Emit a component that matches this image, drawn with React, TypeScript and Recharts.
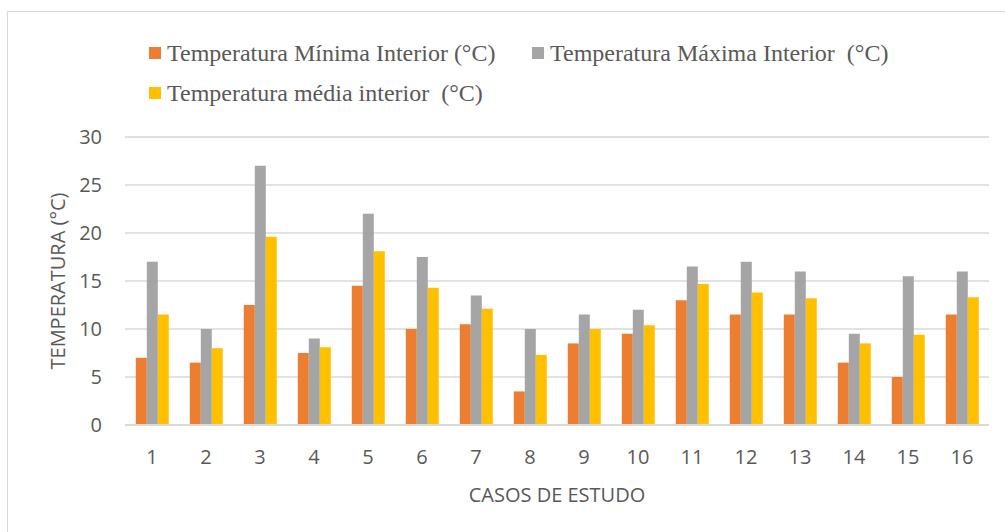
import React from "react";
import {
  BarChart,
  Bar,
  XAxis,
  YAxis,
  CartesianGrid,
  Legend,
} from "recharts";

const categories = ["1", "2", "3", "4", "5", "6", "7", "8", "9", "10", "11", "12", "13", "14", "15", "16"];
const minima = [7, 6.5, 12.5, 7.5, 14.5, 10, 10.5, 3.5, 8.5, 9.5, 13, 11.5, 11.5, 6.5, 5, 11.5];
const maxima = [17, 10, 27, 9, 22, 17.5, 13.5, 10, 11.5, 12, 16.5, 17, 16, 9.5, 15.5, 16];
const medias = [11.5, 8, 19.6, 8.1, 18.1, 14.3, 12.1, 7.3, 10, 10.4, 14.7, 13.8, 13.2, 8.5, 9.4, 13.3];
const seriesOrder = ["min", "max", "med"];
const majorTicks = [0, 5, 10, 15, 20, 25, 30];
const minorTicks = [0, 1, 2, 3, 4, 5, 6, 7, 8, 9, 10, 11, 12, 13, 14, 15, 16, 17, 18, 19, 20, 21, 22, 23, 24, 25, 26, 27, 28, 29, 30];

const data = categories.map((c, i) => ({
  caso: c,
  min: minima[i],
  max: maxima[i],
  med: medias[i],
}));

const TEXT = "#595959";
const SANS = "'Open Sans', sans-serif";

function LegendBox({ payload }: any) {
  const items = [...(payload || [])].sort(
    (a: any, b: any) => seriesOrder.indexOf(a.dataKey) - seriesOrder.indexOf(b.dataKey)
  );
  return (
    <div
      style={{
        display: "flex",
        flexWrap: "wrap",
        width: 780,
        paddingLeft: 149,
        paddingTop: 33,
        fontFamily: "'Liberation Serif', serif",
        fontSize: 24,
        color: TEXT,
      }}
    >
      {items.map((p: any) => (
        <div
          key={p.value}
          style={{ display: "flex", alignItems: "center", width: 383, height: 40 }}
        >
          <span style={{ width: 12, height: 12, background: p.color, marginRight: 6, flex: "none" }} />
          <span style={{ whiteSpace: "pre" }}>{p.value}</span>
        </div>
      ))}
    </div>
  );
}

export default function App() {
  return (
    <div style={{ position: "fixed", left: 0, top: 0, width: 1005, height: 532, overflow: "hidden", background: "#fff" }}>
      <div
        style={{
          position: "absolute",
          left: 7,
          top: 11,
          width: 1100,
          height: 600,
          borderTop: "1px solid #d9d9d9",
          borderLeft: "1px solid #d9d9d9",
        }}
      />
      <div style={{ position: "absolute", left: 0, top: 0 }}>
        <BarChart
          width={1005}
          height={532}
          data={data}
          margin={{ top: 137, right: 16, bottom: 0, left: 0 }}
          barCategoryGap="20%"
          barGap={0}
        >
          <CartesianGrid yAxisId="minor" vertical={false} stroke="#efefef" strokeWidth={1.3} />
          <CartesianGrid yAxisId="main" vertical={false} stroke="#d9d9d9" strokeWidth={1.5} />
          <XAxis
            dataKey="caso"
            height={107}
            tickSize={0}
            tickMargin={25}
            tickLine={false}
            axisLine={{ stroke: "#d9d9d9", strokeWidth: 2 }}
            tick={{ fill: TEXT, fontSize: 20, fontFamily: SANS }}
            interval={0}
            label={{
              content: ({ viewBox }: any) => (
                <text
                  x={viewBox.x + viewBox.width / 2}
                  y={viewBox.y + 69}
                  textAnchor="middle"
                  dominantBaseline="central"
                  fill={TEXT}
                  fontSize={20}
                  fontFamily={SANS}
                >
                  CASOS DE ESTUDO
                </text>
              ),
            }}
          />
          <YAxis
            yAxisId="main"
            width={125}
            domain={[0, 30]}
            ticks={majorTicks}
            tickSize={0}
            tickMargin={23}
            tickLine={false}
            axisLine={false}
            tick={{ fill: TEXT, fontSize: 20, fontFamily: SANS }}
            label={{
              content: ({ viewBox }: any) => {
                const cx = viewBox.x + 57;
                const cy = viewBox.y + viewBox.height / 2;
                return (
                  <text
                    x={cx}
                    y={cy}
                    transform={`rotate(-90, ${cx}, ${cy})`}
                    textAnchor="middle"
                    dominantBaseline="central"
                    fill={TEXT}
                    fontSize={20}
                    fontFamily={SANS}
                  >
                    TEMPERATURA (°C)
                  </text>
                );
              },
            }}
          />
          <YAxis yAxisId="minor" hide domain={[0, 30]} ticks={minorTicks} />
          <Legend
            layout="vertical"
            align="center"
            verticalAlign="middle"
            wrapperStyle={{ top: 0, left: 0, width: 1005 }}
            content={<LegendBox />}
          />
          <Bar yAxisId="main" dataKey="min" name="Temperatura Mínima Interior (°C)" fill="#ED7D31" isAnimationActive={false} />
          <Bar yAxisId="main" dataKey="max" name="Temperatura Máxima Interior  (°C)" fill="#A5A5A5" isAnimationActive={false} />
          <Bar yAxisId="main" dataKey="med" name="Temperatura média interior  (°C)" fill="#FFC000" isAnimationActive={false} />
        </BarChart>
      </div>
    </div>
  );
}
